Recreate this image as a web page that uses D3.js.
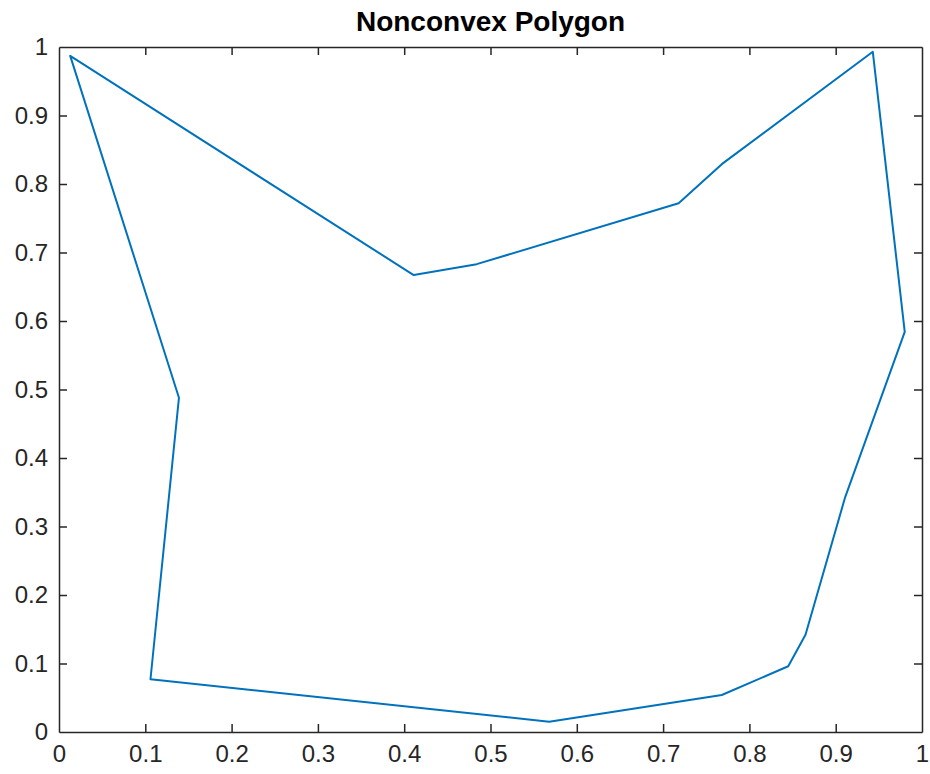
<!DOCTYPE html>
<html>
<head>
<meta charset="utf-8">
<script src="https://cdn.jsdelivr.net/npm/d3@7"></script>
<style>
  body { margin: 0; background: #fff; }
  svg { display: block; font-family: "Liberation Sans", Arial, sans-serif; }
</style>
</head>
<body>
<div id="chart"></div>
<script>
// polygon vertices
const xs = [0.013, 0.411, 0.484, 0.718, 0.768, 0.943, 0.980, 0.911, 0.865, 0.845, 0.768, 0.568, 0.106, 0.139];
const ys = [0.987, 0.667, 0.683, 0.772, 0.829, 0.993, 0.584, 0.343, 0.142, 0.096, 0.054, 0.015, 0.077, 0.488];
const ticks = [0, 0.1, 0.2, 0.3, 0.4, 0.5, 0.6, 0.7, 0.8, 0.9, 1];
const title = "Nonconvex Polygon";

const width = 930;
const height = 774;
const margin = {top: 47, right: 8, bottom: 42, left: 59};
const innerW = width - margin.left - margin.right;
const innerH = height - margin.top - margin.bottom;
const axisColor = "#262626";

const svg = d3.select("#chart")
  .append("svg")
  .attr("width", width)
  .attr("height", height);

const g = svg.append("g")
  .attr("transform", `translate(${margin.left},${margin.top})`);

const x = d3.scaleLinear().domain([0, 1]).range([0, innerW]);
const y = d3.scaleLinear().domain([0, 1]).range([innerH, 0]);

const fmt = d => d === 0 || d === 1 ? String(d) : d3.format(".1f")(d);

// polygon outline
const pts = xs.map((d, i) => [d, ys[i]]);
const line = d3.line()
  .x(d => x(d[0]))
  .y(d => y(d[1]))
  .curve(d3.curveLinearClosed);

g.append("path")
  .datum(pts)
  .attr("fill", "none")
  .attr("stroke", "#0072BD")
  .attr("stroke-width", 2)
  .attr("stroke-linejoin", "round")
  .attr("d", line);

// axes, ticks point inwards, mirrored on top and right
const tickLen = 8;
const axBottom = g.append("g")
  .attr("transform", `translate(0,${innerH})`)
  .call(d3.axisBottom(x).tickValues(ticks).tickFormat(fmt).tickSizeInner(-tickLen).tickSizeOuter(0).tickPadding(13));
const axLeft = g.append("g")
  .call(d3.axisLeft(y).tickValues(ticks).tickFormat(fmt).tickSizeInner(-tickLen).tickSizeOuter(0).tickPadding(11));
const axTop = g.append("g")
  .call(d3.axisTop(x).tickValues(ticks).tickFormat("").tickSizeInner(-tickLen).tickSizeOuter(0));
const axRight = g.append("g")
  .attr("transform", `translate(${innerW},0)`)
  .call(d3.axisRight(y).tickValues(ticks).tickFormat("").tickSizeInner(-tickLen).tickSizeOuter(0));

const allAxes = [axBottom, axLeft, axTop, axRight];
allAxes.forEach(a => {
  a.select(".domain").attr("stroke", axisColor).attr("stroke-width", 1.5);
  a.selectAll(".tick line").attr("stroke", axisColor).attr("stroke-width", 1.5);
  a.selectAll(".tick text")
    .attr("fill", axisColor)
    .style("font-size", "24px");
  // no tick marks on the box corners
  a.selectAll(".tick").filter(d => d === 0 || d === 1).select("line").remove();
});

svg.append("text")
  .attr("x", margin.left + innerW / 2)
  .attr("y", 31)
  .attr("text-anchor", "middle")
  .attr("fill", "#000")
  .style("font-size", "28px")
  .style("font-weight", "bold")
  .text(title);
</script>
</body>
</html>
